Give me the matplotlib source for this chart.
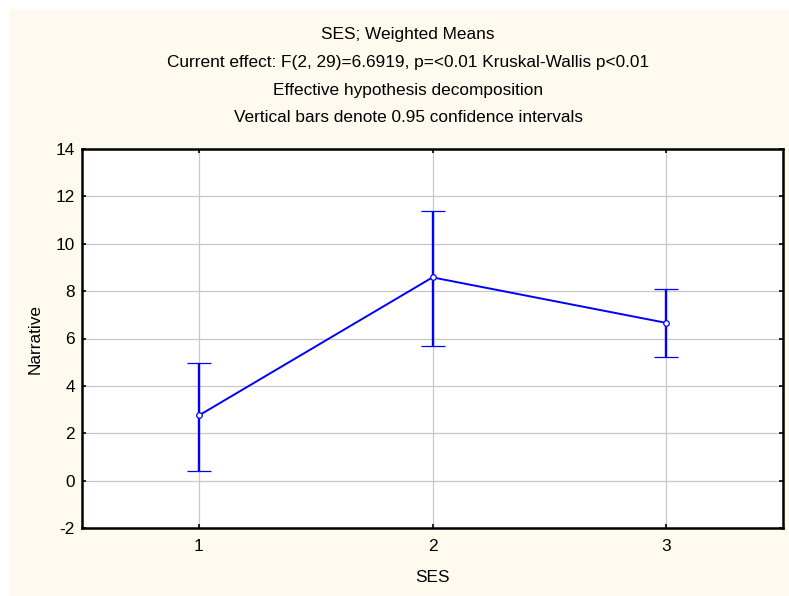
import matplotlib.pyplot as plt
from matplotlib.patches import Rectangle

plt.rcParams['font.family'] = ['Liberation Sans', 'DejaVu Sans']
plt.rcParams['axes.unicode_minus'] = False

# data
ses_levels = [1, 2, 3]
means = [2.75, 8.58, 6.66]
ci_upper = [4.96, 11.38, 8.07]
ci_lower = [0.42, 5.70, 5.24]

title_lines = [
    "SES; Weighted Means",
    "Current effect: F(2, 29)=6.6919, p=<0.01 Kruskal-Wallis p<0.01",
    "Effective hypothesis decomposition",
    "Vertical bars denote 0.95 confidence intervals",
]
y_ticks = [-2, 0, 2, 4, 6, 8, 10, 12, 14]

W, H = 789, 596
FS = 12.4
fig = plt.figure(figsize=(W / 100, H / 100), dpi=100, facecolor='white')

# cream panel behind everything
fig.patches.append(Rectangle((9 / W, 0), 1 - 9 / W, 1 - 9 / H,
                             transform=fig.transFigure, facecolor='#FFFAEF',
                             edgecolor='none', zorder=-5))

ax = fig.add_axes([82 / W, 1 - 528 / H, (783 - 82) / W, (528 - 149) / H])
ax.set_zorder(2)
ax.set_facecolor('white')

err_low = [m - lo for m, lo in zip(means, ci_lower)]
err_high = [hi - m for m, hi in zip(means, ci_upper)]
ax.errorbar(ses_levels, means, yerr=[err_low, err_high], color='#0000FF',
            lw=1.4, elinewidth=1.7, capsize=8.6, capthick=1.7,
            marker='o', markersize=4, markerfacecolor='white',
            markeredgecolor='#0000FF', markeredgewidth=0.9, zorder=3)

ax.set_xlim(0.5, 3.5)
ax.set_ylim(-2, 14)
ax.set_xticks(ses_levels)
ax.set_yticks(y_ticks)
ax.grid(True, color='#C8C8C8', lw=0.9)
ax.set_axisbelow(True)

for sp in ax.spines.values():
    sp.set_linewidth(1.8)
    sp.set_color('black')

ax.tick_params(direction='in', length=3, width=1.2, top=True, right=True,
               labelsize=FS, colors='black')
ax.tick_params(axis='x', pad=8)
ax.tick_params(axis='y', pad=5)

ax.set_xlabel("SES", fontsize=FS)
ax.xaxis.set_label_coords(0.5, -(578 - 528) / (528 - 149))
ax.set_ylabel("Narrative", fontsize=FS)
ax.yaxis.set_label_coords(-(82 - 35) / (783 - 82), 0.5)
ax.xaxis.label.set_va('center')
ax.yaxis.label.set_va('center')

for txt, yc in zip(title_lines, [34, 62, 90, 118]):
    fig.text(408 / W, 1 - yc / H, txt, ha='center', va='center', fontsize=FS)

fig.savefig('out.png', dpi=100, facecolor=fig.get_facecolor())
